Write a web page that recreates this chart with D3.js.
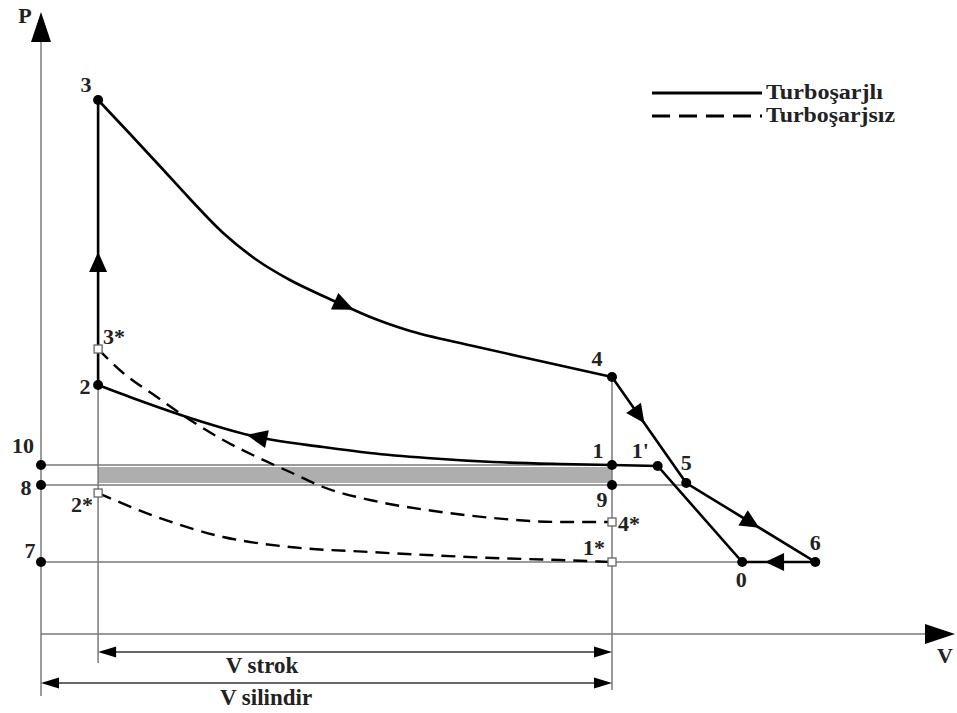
<!DOCTYPE html>
<html><head><meta charset="utf-8">
<script src="https://cdn.jsdelivr.net/npm/d3@7"></script>
<style>html,body{margin:0;padding:0;background:#fff;}svg{display:block;}</style>
</head><body>
<script>
// ---- data (V in clearance-volume units, P in arbitrary pressure units) ----
const expV  = [1.0, 1.56, 2.08, 2.61, 3.19, 3.78, 4.36, 4.94, 5.29, 5.81, 6.41, 7.57, 8.74, 10.0];
const expP  = [53.4, 50.0, 46.8, 43.5, 40.1, 37.4, 35.4, 33.8, 32.9, 31.6, 30.4, 28.8, 27.3, 25.7];
const compV = [1.0, 1.70, 2.61, 3.78, 4.94, 5.76, 6.76, 7.92, 9.09, 10.0];
const compP = [24.9, 23.4, 21.6, 19.7, 18.7, 18.1, 17.6, 17.2, 17.0, 16.9];
const expNaV  = [1.0, 1.44, 2.03, 2.61, 3.19, 3.78, 4.36, 4.94, 5.76, 6.76, 7.92, 9.09, 10.0];
const expNaP  = [28.5, 26.1, 23.7, 21.4, 19.4, 17.7, 16.2, 14.7, 13.4, 12.4, 11.6, 11.2, 11.2];
const compNaV = [1.0, 2.03, 3.19, 4.36, 5.76, 6.76, 7.92, 9.09, 10.0];
const compNaP = [14.1, 11.7, 9.7, 8.7, 8.2, 7.9, 7.6, 7.4, 7.2];
// state points
const ptNames = ["3", "2", "4", "1", "1'", "5", "9", "0", "6", "10", "8", "7", "3*", "2*", "4*", "1*"];
const ptV     = [1.0, 1.0, 10.0, 10.0, 10.8, 11.3, 10.0, 12.28, 13.56, 0, 0, 0, 1.0, 1.0, 10.0, 10.0];
const ptP     = [53.4, 24.9, 25.7, 16.9, 16.8, 15.1, 14.9, 7.2, 7.2, 16.9, 14.9, 7.2, 28.5, 14.1, 11.2, 7.2];
const ptOpen  = [false, false, false, false, false, false, false, false, false, false, false, false, true, true, true, true];
// exhaust / intake polyline 4 -> 5 -> 6 -> 0 -> 1' -> 1
const loopV = [10.0, 11.3, 13.56, 12.28, 10.8, 10.0];
const loopP = [25.7, 15.1, 7.2, 7.2, 16.8, 16.9];
const legendLabels = ["Turboşarjlı", "Turboşarjsız"];
const axisLabels = ["P", "V"];
const dimLabels = ["V strok", "V silindir"];
const Vc = 1.0, Vtot = 10.0;
const pBoost = 16.9, pAfter = 14.9, pAtm = 7.2, pBandLo = 15.1, pBandHi = 16.7;

// ---- layout ----
const W = 957, H = 713;
const x = d3.scaleLinear().domain([0, 16]).range([41, 954.6]);
const y = d3.scaleLinear().domain([0, 62]).range([634, 14]);
const svg = d3.select("body").append("svg").attr("width", W).attr("height", H);
const thin = "#7a7a7a";
const font = "'Liberation Serif', 'Times New Roman', serif";

function tri(g, px, py, ang, len, hw, back) {
  const c = Math.cos(ang), s = Math.sin(ang);
  const tip = [px + c * len, py + s * len];
  const b1 = [px - c * back - s * hw, py - s * back + c * hw];
  const b2 = [px - c * back + s * hw, py - s * back - c * hw];
  g.append("path").attr("d", `M${tip}L${b1}L${b2}Z`).attr("fill", "#000");
}

// gray band
svg.append("rect").attr("x", x(Vc)).attr("y", y(pBandHi))
  .attr("width", x(Vtot) - x(Vc)).attr("height", y(pBandLo) - y(pBandHi)).attr("fill", "#aeaeae");

// thin guide lines
const gl = svg.append("g").attr("stroke", thin).attr("stroke-width", 1.5).attr("fill", "none");
gl.append("line").attr("x1", x(0)).attr("x2", x(Vtot)).attr("y1", y(pBoost)).attr("y2", y(pBoost));
gl.append("line").attr("x1", x(0)).attr("x2", x(11.3)).attr("y1", y(pAfter)).attr("y2", y(pAfter));
gl.append("line").attr("x1", x(0)).attr("x2", x(12.28)).attr("y1", y(pAtm)).attr("y2", y(pAtm));
gl.append("line").attr("x1", x(Vc)).attr("x2", x(Vc)).attr("y1", y(24.9)).attr("y2", 663);
gl.append("line").attr("x1", x(Vtot)).attr("x2", x(Vtot)).attr("y1", y(25.7)).attr("y2", 690);
// axes
gl.append("line").attr("x1", x(0)).attr("x2", x(0)).attr("y1", 696).attr("y2", 40);
gl.append("line").attr("x1", x(0)).attr("x2", 928).attr("y1", y(0)).attr("y2", y(0));
tri(svg, x(0), 28, -Math.PI / 2, 16, 10, 14);
tri(svg, 941, y(0), 0, 14, 10, 16);

// dimension lines
const dimY = [652, 683];
const dimFrom = [Vc, 0];
dimY.forEach((yy, i) => {
  svg.append("line").attr("x1", x(dimFrom[i]) + 4).attr("x2", x(Vtot) - 4).attr("y1", yy).attr("y2", yy)
    .attr("stroke", "#333").attr("stroke-width", 1.6);
  tri(svg, x(dimFrom[i]) + 8, yy, Math.PI, 8, 5.5, 10);
  tri(svg, x(Vtot) - 8, yy, 0, 8, 5.5, 10);
  svg.append("text").attr("x", (i === 0 ? 262 : 266)).attr("y", yy + (i === 0 ? 21 : 22))
    .attr("text-anchor", "middle").attr("font-family", font).attr("font-weight", "bold")
    .attr("font-size", 23).attr("fill", "#222").text(dimLabels[i]);
});

// curves
const line = d3.line().x(d => x(d[0])).y(d => y(d[1])).curve(d3.curveMonotoneX);
const lin = d3.line().x(d => x(d[0])).y(d => y(d[1]));
const z = (a, b) => a.map((v, i) => [v, b[i]]);
const main = svg.append("g").attr("fill", "none").attr("stroke", "#000").attr("stroke-width", 2.6);
const pExp = main.append("path").attr("d", line(z(expV, expP)));
const pComp = main.append("path").attr("d", line(z(compV, compP)));
main.append("path").attr("d", lin([[Vc, 24.9], [Vc, 53.4]]));
main.append("path").attr("d", lin(z(loopV, loopP)));
const dash = svg.append("g").attr("fill", "none").attr("stroke", "#000").attr("stroke-width", 2.4)
  .attr("stroke-dasharray", "14,8");
dash.append("path").attr("d", line(z(expNaV, expNaP)));
dash.append("path").attr("d", line(z(compNaV, compNaP)));

// arrows on the cycle
function arrowOnPath(p, targetX, reverse) {
  const node = p.node(), L = node.getTotalLength();
  let best = 0, bd = 1e9;
  for (let l = 0; l <= L; l += 0.5) { const q = node.getPointAtLength(l); const d = Math.abs(q.x - targetX); if (d < bd) { bd = d; best = l; } }
  const a = node.getPointAtLength(Math.max(0, best - 2)), b = node.getPointAtLength(Math.min(L, best + 2));
  let ang = Math.atan2(b.y - a.y, b.x - a.x); if (reverse) ang += Math.PI;
  const m = node.getPointAtLength(best);
  tri(svg, m.x, m.y, ang, 12, 9, 9);
}
arrowOnPath(pExp, x(5.29), false);
arrowOnPath(pComp, x(3.8), true);
tri(svg, x(Vc), y(37.2), -Math.PI / 2, 10, 9, 10);
function segArrow(v0, p0, v1, p1, t) {
  const x0 = x(v0), y0 = y(p0), x1 = x(v1), y1 = y(p1);
  const ang = Math.atan2(y1 - y0, x1 - x0);
  tri(svg, x0 + (x1 - x0) * t, y0 + (y1 - y0) * t, ang, 10, 9, 9);
}
segArrow(10.0, 25.7, 11.3, 15.1, 0.36);
segArrow(11.3, 15.1, 13.56, 7.2, 0.5);
segArrow(13.56, 7.2, 12.28, 7.2, 0.55);

// points
ptNames.forEach((n, i) => {
  if (ptOpen[i]) {
    svg.append("rect").attr("x", x(ptV[i]) - 4).attr("y", y(ptP[i]) - 4).attr("width", 8).attr("height", 8)
      .attr("fill", "#fff").attr("stroke", "#666").attr("stroke-width", 1.3);
  } else {
    svg.append("circle").attr("cx", x(ptV[i])).attr("cy", y(ptP[i])).attr("r", 5).attr("fill", "#000");
  }
});
// point labels: [dx, dy, anchor]
const lab = {
  "3": [-12, -8, "middle"], "3*": [5, -5, "start"], "2": [-13, 9, "middle"], "2*": [-5, 19, "end"],
  "4": [-15, -11, "middle"], "1": [-14, -7, "middle"], "1'": [-26, -8, "start"], "5": [0, -13, "middle"],
  "9": [-10, 22, "middle"], "4*": [6, 9, "start"], "1*": [-7, -7, "end"], "0": [-1, 25, "middle"],
  "6": [0, -12, "middle"], "10": [-18, -12, "middle"], "8": [-15, 10, "middle"], "7": [-11, -4, "middle"]
};
ptNames.forEach((n, i) => {
  const o = lab[n];
  svg.append("text").attr("x", x(ptV[i]) + o[0]).attr("y", y(ptP[i]) + o[1]).attr("text-anchor", o[2])
    .attr("font-family", font).attr("font-weight", "bold").attr("font-size", 22).attr("fill", "#222").text(n);
});
// axis labels
svg.append("text").attr("x", 25).attr("y", 23).attr("text-anchor", "middle").attr("font-family", font)
  .attr("font-weight", "bold").attr("font-size", 22).attr("fill", "#222").text(axisLabels[0]);
svg.append("text").attr("x", 945).attr("y", 663).attr("text-anchor", "middle").attr("font-family", font)
  .attr("font-weight", "bold").attr("font-size", 22).attr("fill", "#222").text(axisLabels[1]);

// legend
const legW = [117, 129];
legendLabels.forEach((t, i) => {
  const ly = 93 + i * 23;
  svg.append("line").attr("x1", 652).attr("x2", 762).attr("y1", ly).attr("y2", ly).attr("stroke", "#000")
    .attr("stroke-width", 3).attr("stroke-dasharray", i ? "18,9" : null);
  svg.append("text").attr("x", 766).attr("y", ly + 6).attr("font-family", font).attr("font-weight", "bold")
    .attr("font-size", 20).attr("textLength", legW[i]).attr("lengthAdjust", "spacingAndGlyphs")
    .attr("fill", "#222").text(t);
});
</script>
</body></html>
